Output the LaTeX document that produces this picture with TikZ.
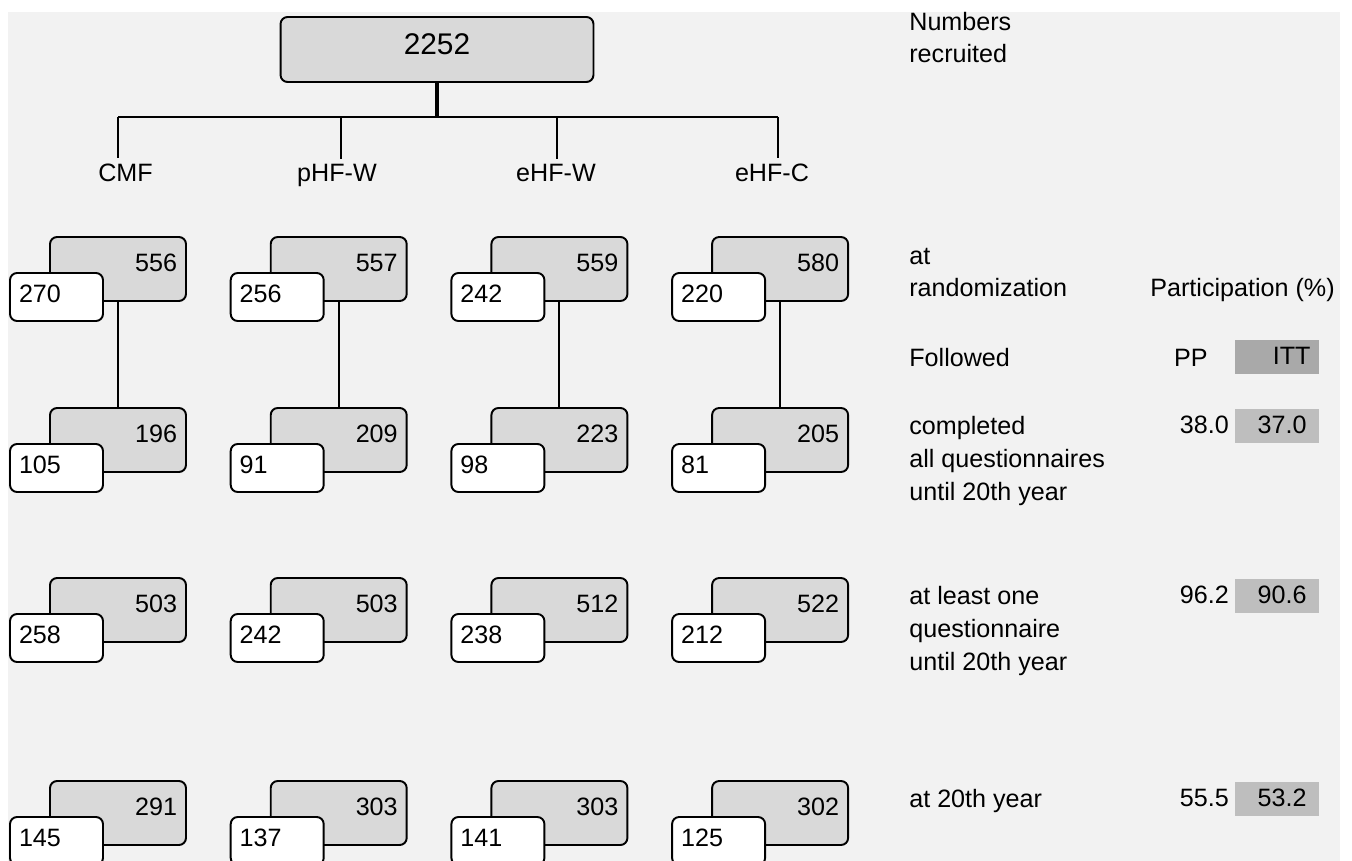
\documentclass[tikz,border=0pt]{standalone}
\usepackage{fontspec}
\setmainfont{Liberation Sans}
\usetikzlibrary{calc}
\definecolor{bggray}{HTML}{F2F2F2}
\definecolor{boxgray}{HTML}{D9D9D9}
\definecolor{ittgray}{HTML}{A9A9A9}
\definecolor{valgray}{HTML}{BEBEBE}
\begin{document}
\begin{tikzpicture}[x={(0.02cm,0)}, y={(0,-0.02cm)}, font=\fontsize{14.3}{18.7}\selectfont,
  lbl/.style={anchor=base west, align=left, inner sep=0pt},
  val/.style={fill=valgray, minimum width=1.68cm, minimum height=0.68cm, inner xsep=0pt, text width=1.2cm, align=right, text height=10pt, text depth=1pt}]
\tikzstyle{grp}=[draw, line width=1.1pt, rounded corners=4pt, fill=boxgray, minimum width=2.72cm, minimum height=1.28cm, inner xsep=0pt, text width=2.36cm, align=right, text height=8pt, text depth=4.6pt]
\tikzstyle{sub}=[draw, line width=1.1pt, rounded corners=4pt, fill=white, minimum width=1.86cm, minimum height=0.96cm, inner xsep=0pt, text width=1.5cm, align=left, text height=8pt, text depth=1.2pt]
\useasboundingbox (0,0) rectangle (1352,861);
\fill[bggray] (8,12) rectangle (1340,861);
% recruited
\node[grp, minimum width=6.26cm, minimum height=1.3cm, text width=5cm, align=center, font=\fontsize{17}{20}\selectfont, text height=12.5pt, text depth=6.3pt] (top) at (437,49.5) {2252};
\coordinate (hub) at (437,117);
\draw[line width=2pt] (top.south) -- (hub);
% groups
\foreach \n/\t/\ax/\lx in {CMF/CMF/118/125.5, pHFW/pHF-W/341/337, eHFW/eHF-W/557/556, eHFC/eHF-C/778/772}{
  \coordinate (arm\n) at (\ax,117);
  \node[anchor=base] (\n) at (\lx,182) {\t};
  \draw[line width=1.1pt] (arm\n) -- (arm\n |- \n.north);
}
\draw[line width=1.1pt] (armCMF) -- (armeHFC);
% boxes per group and stage
\foreach \c/\r/\g/\w in {0/1/556/270, 1/1/557/256, 2/1/559/242, 3/1/580/220,
  0/2/196/105, 1/2/209/91, 2/2/223/98, 3/2/205/81,
  0/3/503/258, 1/3/503/242, 2/3/512/238, 3/3/522/212,
  0/4/291/145, 1/4/303/137, 2/4/303/141, 3/4/302/125}{
  \pgfmathsetmacro{\ytop}{{237,408,578,781}[\r-1]}
  \node[grp] (g\c\r) at ({118+220.7*\c},{\ytop+32}) {\g};
  \node[sub] (w\c\r) at ($(g\c\r.center)+(-61.5,28)$) {\w};
}
\foreach \c in {0,...,3}{\draw[line width=1.1pt] (g\c1.south) -- (g\c2.north);}
% stages and participation (base = last line)
\node[lbl] (numrec) at (909,63) {Numbers\\recruited};
\node[lbl] (atrand) at (909,297) {at\\randomization};
\node[lbl] (part) at (1150,297) {Participation (\%)};
\node[lbl] (follow) at (909,367) {Followed};
\node[anchor=base east, inner sep=0pt] (pp) at (1208,367) {PP};
\node[val, fill=ittgray, text width=1.36cm] (itt) at (1276.5,357) {ITT};
\foreach \n/\y/\b/\t/\p/\i in {all/409/500/{completed\\all questionnaires\\until 20th year}/38.0/37.0,
  one/579/670/{at least one\\questionnaire\\until 20th year}/96.2/90.6,
  end/782/807/{at 20th year}/55.5/53.2}{
  \node[lbl] (t\n) at (909,\b) {\t};
  \node[val] (v\n) at (1276.5,{\y+17}) {\i};
  \node[anchor=base east, inner sep=0pt] (p\n) at ($(v\n.base west)+(-5,0)$) {\p};
}
\end{tikzpicture}
\end{document}
